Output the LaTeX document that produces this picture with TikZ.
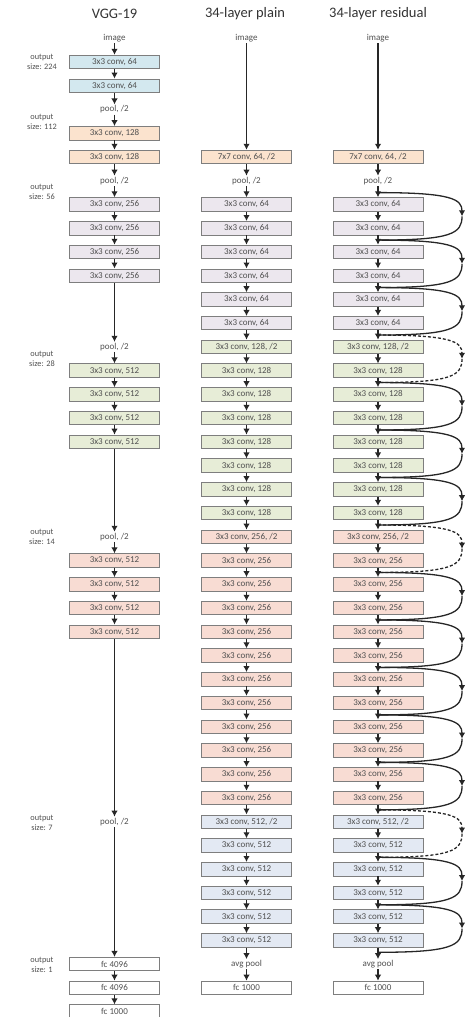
\documentclass[tikz,border=0pt]{standalone}
\usepackage{fontspec}
\setmainfont{Carlito}
\usetikzlibrary{arrows.meta,calc}
\definecolor{cblue}{HTML}{D3E8EF}
\definecolor{cpeach}{HTML}{FBE3CE}
\definecolor{clav}{HTML}{ECE7EE}
\definecolor{cgreen}{HTML}{E7EDD7}
\definecolor{csalmon}{HTML}{F8DCD3}
\definecolor{cslate}{HTML}{E3E9F3}
\definecolor{bord}{HTML}{7E7E7E}
\definecolor{txtc}{HTML}{505050}
\definecolor{titc}{HTML}{333333}
\newcommand{\RY}[1]{157+(#1-1)*23.74}
\tikzset{
  box/.style={draw=bord, line width=0.9pt, minimum width=90pt, minimum height=13.5pt,
    inner sep=0pt, font=\fontsize{9}{10}\selectfont, text=txtc},
  txt/.style={inner sep=1pt, font=\fontsize{9}{10}\selectfont, text=txtc},
  olbl/.style={inner sep=0pt, align=center, font=\fontsize{8.3}{10}\selectfont, text=txtc},
  ttl/.style={inner sep=0pt, font=\fontsize{14.5}{16}\selectfont, text=titc},
  arr/.style={-{Latex[length=6pt,width=6.5pt]}, line width=1.3pt, draw=black!85},
  sc/.style={line width=1.3pt, draw=black!85},
  sctip/.style={-{Latex[length=6pt,width=6.5pt]}, line width=1.3pt, draw=black!85},
}
\begin{document}
\begin{tikzpicture}[x=1pt,y=-1pt]
\useasboundingbox (0,0) rectangle (465,1017);
% titles
\node[ttl] (t1) at (114.5,14) {VGG-19};
\node[ttl] (t2) at (245,14) {34-layer plain};
\node[ttl] (t3) at (378,14) {34-layer residual};
% output size labels
\node[olbl] (o1) at (42,62) {output\\size: 224};
\node[olbl] (o2) at (42,122) {output\\size: 112};
\node[olbl] (o3) at (42,192) {output\\size: 56};
\node[olbl] (o4) at (42,359) {output\\size: 28};
\node[olbl] (o5) at (42,537) {output\\size: 14};
\node[olbl] (o6) at (42,823) {output\\size: 7};
\node[olbl] (o7) at (42,965) {output\\size: 1};
% ---------------- VGG-19
\def\vx{114.5}
\node[txt] (vimg) at (\vx,{\RY{-4}}) {image};
\node[box,fill=cblue] (v1) at (\vx,{\RY{-3}}) {3x3 conv, 64};
\node[box,fill=cblue] (v2) at (\vx,{\RY{-2}}) {3x3 conv, 64};
\node[txt] (vp1) at (\vx,{\RY{-1}}) {pool, /2};
\node[box,fill=cpeach] (v3) at (\vx,{\RY{0}}) {3x3 conv, 128};
\node[box,fill=cpeach] (v4) at (\vx,{\RY{1}}) {3x3 conv, 128};
\node[txt] (vp2) at (\vx,{\RY{2}}) {pool, /2};
\node[box,fill=clav] (v5) at (\vx,{\RY{3}}) {3x3 conv, 256};
\node[box,fill=clav] (v6) at (\vx,{\RY{4}}) {3x3 conv, 256};
\node[box,fill=clav] (v7) at (\vx,{\RY{5}}) {3x3 conv, 256};
\node[box,fill=clav] (v8) at (\vx,{\RY{6}}) {3x3 conv, 256};
\node[txt] (vp3) at (\vx,{\RY{9}}) {pool, /2};
\node[box,fill=cgreen] (v9) at (\vx,{\RY{10}}) {3x3 conv, 512};
\node[box,fill=cgreen] (v10) at (\vx,{\RY{11}}) {3x3 conv, 512};
\node[box,fill=cgreen] (v11) at (\vx,{\RY{12}}) {3x3 conv, 512};
\node[box,fill=cgreen] (v12) at (\vx,{\RY{13}}) {3x3 conv, 512};
\node[txt] (vp4) at (\vx,{\RY{17}}) {pool, /2};
\node[box,fill=csalmon] (v13) at (\vx,{\RY{18}}) {3x3 conv, 512};
\node[box,fill=csalmon] (v14) at (\vx,{\RY{19}}) {3x3 conv, 512};
\node[box,fill=csalmon] (v15) at (\vx,{\RY{20}}) {3x3 conv, 512};
\node[box,fill=csalmon] (v16) at (\vx,{\RY{21}}) {3x3 conv, 512};
\node[txt] (vp5) at (\vx,{\RY{29}}) {pool, /2};
\node[box,fill=white] (vf1) at (\vx,{\RY{35}}) {fc 4096};
\node[box,fill=white] (vf2) at (\vx,{\RY{36}}) {fc 4096};
\node[box,fill=white] (vf3) at (\vx,{\RY{37}}) {fc 1000};
\foreach \a/\b in {vimg/v1,v1/v2,v2/vp1,vp1/v3,v3/v4,v4/vp2,vp2/v5,v5/v6,v6/v7,v7/v8,v8/vp3,
  vp3/v9,v9/v10,v10/v11,v11/v12,v12/vp4,vp4/v13,v13/v14,v14/v15,v15/v16,v16/vp5,vp5/vf1,vf1/vf2,vf2/vf3}
  \draw[arr] (\a) -- (\b);
% ---------------- plain & residual
\foreach \c/\xx in {p/246.5,r/378}{
  \node[txt] (\c0) at (\xx,{\RY{-4}}) {image};
  \node[box,fill=cpeach] (\c1) at (\xx,{\RY{1}}) {7x7 conv, 64, /2};
  \node[txt] (\c2) at (\xx,{\RY{2}}) {pool, /2};
  \foreach \i in {3,...,8} \node[box,fill=clav] (\c\i) at (\xx,{\RY{\i}}) {3x3 conv, 64};
  \node[box,fill=cgreen] (\c9) at (\xx,{\RY{9}}) {3x3 conv, 128, /2};
  \foreach \i in {10,...,16} \node[box,fill=cgreen] (\c\i) at (\xx,{\RY{\i}}) {3x3 conv, 128};
  \node[box,fill=csalmon] (\c17) at (\xx,{\RY{17}}) {3x3 conv, 256, /2};
  \foreach \i in {18,...,28} \node[box,fill=csalmon] (\c\i) at (\xx,{\RY{\i}}) {3x3 conv, 256};
  \node[box,fill=cslate] (\c29) at (\xx,{\RY{29}}) {3x3 conv, 512, /2};
  \foreach \i in {30,...,34} \node[box,fill=cslate] (\c\i) at (\xx,{\RY{\i}}) {3x3 conv, 512};
  \node[txt] (\c35) at (\xx,{\RY{35}}) {avg pool};
  \node[box,fill=white] (\c36) at (\xx,{\RY{36}}) {fc 1000};
  \foreach \i [evaluate=\i as \j using int(\i+1)] in {0,...,35} \draw[arr] (\c\i) -- (\c\j);
}
% ---------------- shortcuts
\foreach \a/\st in {3/solid,5/solid,7/solid,9/densely dashed,11/solid,13/solid,15/solid,
  17/densely dashed,19/solid,21/solid,23/solid,25/solid,27/solid,29/densely dashed,31/solid,33/solid}{
  \coordinate (js\a) at (378,{\RY{\a}-11.87});
  \coordinate (jm\a) at (462,{\RY{\a}+11.87});
  \coordinate (je\a) at (378,{\RY{\a}+35.61});
  \draw[sctip,\st] (js\a) .. controls ($(js\a)+(74,0)$) and ($(jm\a)+(0,-17)$) .. (jm\a);
  \draw[sc,\st] (jm\a) .. controls ($(jm\a)+(0,17)$) and ($(je\a)+(74,0)$) .. (je\a);
}
\end{tikzpicture}
\end{document}
